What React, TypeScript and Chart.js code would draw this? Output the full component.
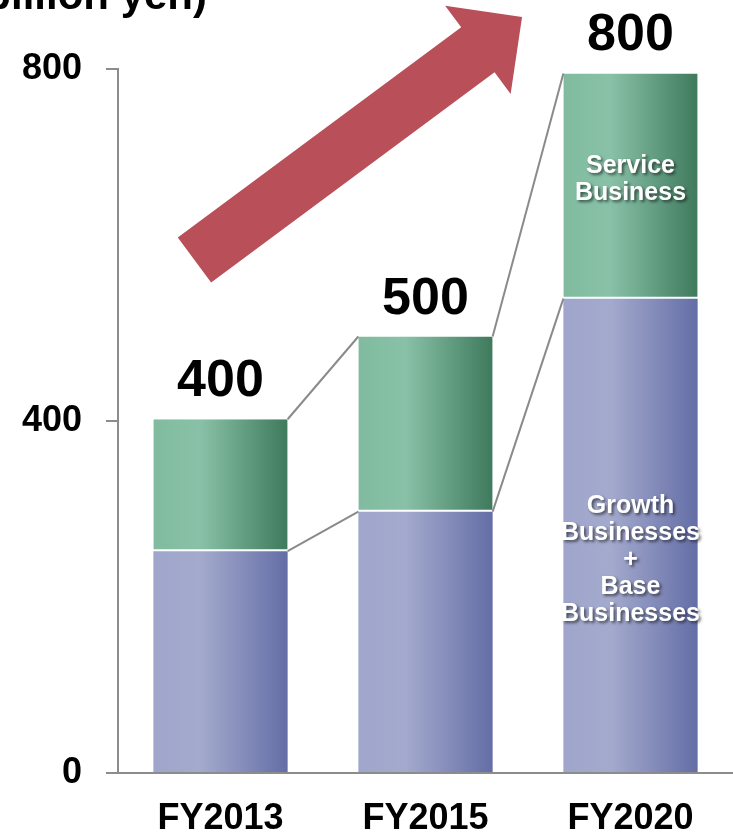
import React, { useEffect, useRef } from "react";
import { Chart, registerables } from "chart.js";

Chart.register(...registerables);

// ---- data ----
const CATEGORIES = ["FY2013", "FY2015", "FY2020"];
const GROWTH_BASE = [252, 297, 539];
const SERVICE = [150, 199, 256];
const TOTAL_LABELS = ["400", "500", "800"];
const Y_TICKS = [0, 400, 800];
const UNIT_LABEL = "(billion yen)";
const SERVICE_LABEL = ["Service", "Business"];
const GROWTH_LABEL = ["Growth", "Businesses", "+", "Base", "Businesses"];
// arrow anchors in data space: [category index, value]
const ARROW_FROM = [-0.127, 583];
const ARROW_TO = [1.471, 859];
// label anchors (value) for inner labels in the last bar
const SERVICE_LABEL_AT = 674;
const GROWTH_LABEL_AT = 242;

const FONT = '"Liberation Sans", Arial, sans-serif';
const BAR_PCT = 0.655;

function barGeom(chart: any, i: number) {
  const xs = chart.scales.x;
  const step = xs.getPixelForValue(1) - xs.getPixelForValue(0);
  const w = step * BAR_PCT;
  const cx = xs.getPixelForValue(i);
  return { left: cx - w / 2, right: cx + w / 2, cx, w };
}

function makeGradient(stops: [number, string][]) {
  return (context: any) => {
    const chart = context.chart;
    if (!chart.chartArea || !chart.scales.x) return stops[0][1];
    const { left, right } = barGeom(chart, context.dataIndex);
    const g = chart.ctx.createLinearGradient(left, 0, right, 0);
    stops.forEach(([o, c]) => g.addColorStop(o, c));
    return g;
  };
}

const overlayPlugin = {
  id: "overlay",
  afterDatasetsDraw(chart: any) {
    const { ctx } = chart;
    const ys = chart.scales.y;
    const xs = chart.scales.x;
    ctx.save();

    // connector lines
    ctx.strokeStyle = "#8a8a8a";
    ctx.lineWidth = 2;
    for (let i = 0; i < CATEGORIES.length - 1; i++) {
      const a = barGeom(chart, i);
      const b = barGeom(chart, i + 1);
      const lv = [
        [GROWTH_BASE[i], GROWTH_BASE[i + 1]],
        [GROWTH_BASE[i] + SERVICE[i], GROWTH_BASE[i + 1] + SERVICE[i + 1]],
      ];
      lv.forEach(([v1, v2]) => {
        ctx.beginPath();
        ctx.moveTo(a.right, ys.getPixelForValue(v1));
        ctx.lineTo(b.left, ys.getPixelForValue(v2));
        ctx.stroke();
      });
    }

    // total labels
    ctx.fillStyle = "#000";
    ctx.font = `bold 52px ${FONT}`;
    ctx.textAlign = "center";
    ctx.textBaseline = "alphabetic";
    for (let i = 0; i < CATEGORIES.length; i++) {
      const g = barGeom(chart, i);
      const top = ys.getPixelForValue(GROWTH_BASE[i] + SERVICE[i]);
      ctx.fillText(TOTAL_LABELS[i], g.cx, top - 23);
    }

    // unit label
    ctx.font = `bold 42px ${FONT}`;
    ctx.textAlign = "right";
    ctx.fillText(UNIT_LABEL, chart.chartArea.left + 89, 9);

    // arrow
    const x0 = xs.getPixelForValue(ARROW_FROM[0]);
    const y0 = ys.getPixelForValue(ARROW_FROM[1]);
    const x1 = xs.getPixelForValue(ARROW_TO[0]);
    const y1 = ys.getPixelForValue(ARROW_TO[1]);
    const dx = x1 - x0, dy = y1 - y0;
    const len = Math.hypot(dx, dy);
    const ux = dx / len, uy = dy / len;
    const nx = -uy, ny = ux;
    const shaftHalf = 28, headHalf = 55, headLen = 55;
    const bx = x1 - ux * headLen, by = y1 - uy * headLen;
    ctx.fillStyle = "#b94f58";
    ctx.beginPath();
    ctx.moveTo(x0 + nx * shaftHalf, y0 + ny * shaftHalf);
    ctx.lineTo(bx + nx * shaftHalf, by + ny * shaftHalf);
    ctx.lineTo(bx + nx * headHalf, by + ny * headHalf);
    ctx.lineTo(x1, y1);
    ctx.lineTo(bx - nx * headHalf, by - ny * headHalf);
    ctx.lineTo(bx - nx * shaftHalf, by - ny * shaftHalf);
    ctx.lineTo(x0 - nx * shaftHalf, y0 - ny * shaftHalf);
    ctx.closePath();
    ctx.fill();

    // inner labels in last bar
    const last = barGeom(chart, CATEGORIES.length - 1);
    ctx.font = `bold 25px ${FONT}`;
    ctx.textAlign = "center";
    ctx.textBaseline = "middle";
    ctx.fillStyle = "#ffffff";
    ctx.shadowColor = "rgba(0,0,0,0.55)";
    ctx.shadowOffsetX = 2;
    ctx.shadowOffsetY = 2;
    ctx.shadowBlur = 3;
    const lh = 27;
    const drawLines = (lines: string[], v: number) => {
      const cy = ys.getPixelForValue(v);
      const start = cy - ((lines.length - 1) * lh) / 2;
      lines.forEach((t, k) => ctx.fillText(t, last.cx, start + k * lh));
    };
    drawLines(SERVICE_LABEL, SERVICE_LABEL_AT);
    drawLines(GROWTH_LABEL, GROWTH_LABEL_AT);
    ctx.restore();
  },
};

export default function App() {
  const ref = useRef<HTMLCanvasElement | null>(null);
  useEffect(() => {
    if (!ref.current) return;
    const chart = new Chart(ref.current, {
      type: "bar",
      data: {
        labels: CATEGORIES,
        datasets: [
          {
            label: "Growth Businesses + Base Businesses",
            data: GROWTH_BASE,
            backgroundColor: makeGradient([
              [0, "#a0a6cb"],
              [0.35, "#a4aacd"],
              [1, "#646ea6"],
            ]),
            borderWidth: 0,
            barPercentage: BAR_PCT,
            categoryPercentage: 1,
          },
          {
            label: "Service Business",
            data: SERVICE,
            backgroundColor: makeGradient([
              [0, "#80bb9f"],
              [0.35, "#88c1a7"],
              [1, "#3f7a5d"],
            ]),
            borderColor: "#ffffff",
            borderWidth: { bottom: 2, top: 0, left: 0, right: 0 },
            borderSkipped: false,
            barPercentage: BAR_PCT,
            categoryPercentage: 1,
          },
        ],
      },
      options: {
        responsive: false,
        animation: false,
        devicePixelRatio: 1,
        layout: { padding: { top: 69, right: 0, left: 0, bottom: 0 } },
        plugins: { legend: { display: false }, tooltip: { enabled: false } },
        scales: {
          x: {
            stacked: true,
            afterFit: (s: any) => {
              s.height = 60;
            },
            grid: { display: false },
            border: { display: true, color: "#8c8c8c", width: 2 },
            ticks: {
              color: "#000",
              padding: 16,
              font: { family: FONT, size: 36, weight: "bold" },
            },
          },
          y: {
            stacked: true,
            min: 0,
            max: 800,
            afterFit: (s: any) => {
              s.width = 118;
            },
            afterBuildTicks: (s: any) => {
              s.ticks = Y_TICKS.map((v) => ({ value: v }));
            },
            grid: {
              display: true,
              drawOnChartArea: false,
              drawTicks: true,
              tickLength: 12,
              color: "#8c8c8c",
              lineWidth: 2,
            },
            border: { display: true, color: "#8c8c8c", width: 2 },
            ticks: {
              color: "#000",
              padding: 24,
              font: { family: FONT, size: 36, weight: "bold" },
            },
          },
        },
      },
      plugins: [overlayPlugin],
    } as any);
    return () => chart.destroy();
  }, []);
  return (
    <div style={{ position: "fixed", left: 0, top: 0, width: 733, height: 833, background: "#fff" }}>
      <canvas ref={ref} width={733} height={833} style={{ display: "block" }} />
    </div>
  );
}
